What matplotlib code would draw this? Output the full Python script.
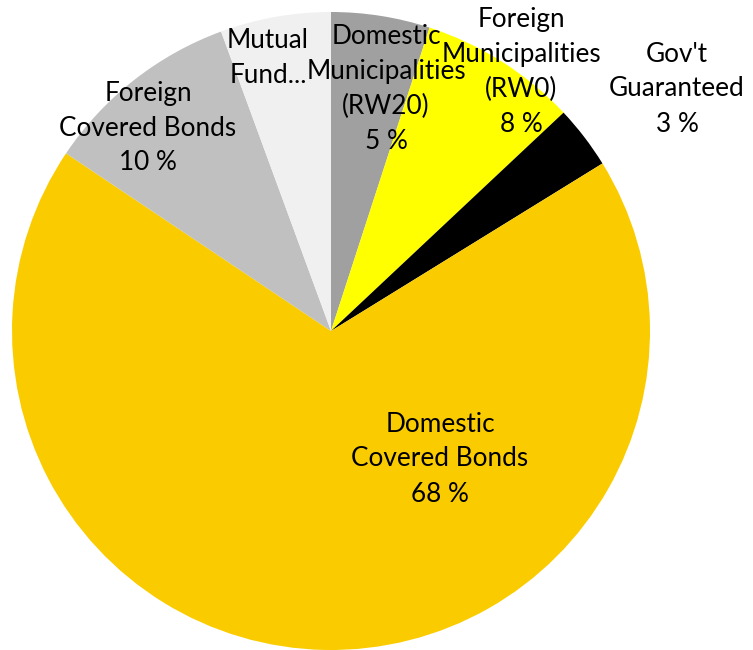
import matplotlib
matplotlib.use("Agg")
import matplotlib.pyplot as plt

categories = ["Domestic\nMunicipalities\n(RW20)", "Foreign\nMunicipalities\n(RW0)",
              "Gov't\nGuaranteed", "Domestic\nCovered Bonds", "Foreign\nCovered Bonds",
              "Mutual\nFund..."]
values = [5.0, 8.0, 3.2, 68.2, 10.0, 5.6]
show_pct = [True, True, True, True, True, False]
colors = ["#A0A0A0", "#FFFF00", "#000000", "#FACC00", "#C0C0C0", "#F0F0F0"]

# label centres in pixel coordinates of the image (x, y from top)
label_px = [(386, 89), (521, 72), (677, 89), (440, 459), (148, 128), (268, 58)]

W, H = 753, 650
fig = plt.figure(figsize=(W / 100, H / 100), dpi=100)
cx, cy, r = 331, 331, 319
ax = fig.add_axes([(cx - r) / W, (H - cy - r) / H, 2 * r / W, 2 * r / H])
ax.pie(values, colors=colors, startangle=90, counterclock=False, radius=1,
       wedgeprops=dict(linewidth=0))
ax.set_xlim(-1, 1)
ax.set_ylim(-1, 1)
ax.set_aspect("equal")
ax.axis("off")

for cat, v, sp, (px, py) in zip(categories, values, show_pct, label_px):
    txt = f"{cat}\n{round(v):d} %" if sp else cat
    fig.text(px / W, 1 - py / H, txt, ha="center", va="center", fontsize=18.8,
             family="Lato", linespacing=1.5, color="black")

fig.savefig("out.png", dpi=100)
